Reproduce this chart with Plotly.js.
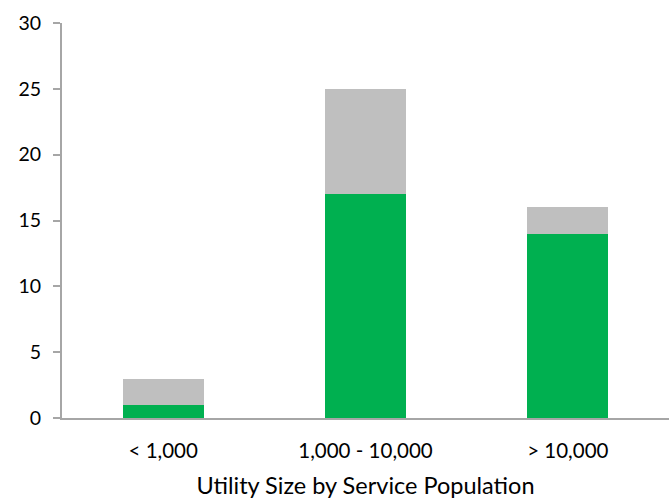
<!DOCTYPE html>
<html>
<head>
<meta charset="utf-8">
<script src="https://cdn.plot.ly/plotly-3.0.1.min.js"></script>
<style>html,body{margin:0;padding:0;background:#fff}</style>
</head>
<body>
<div id="chart" style="width:669px;height:502px"></div>
<script>
const categories = ["< 1,000", "1,000 - 10,000", "> 10,000"];
const greenValues = [1, 17, 14];
const grayValues = [2, 8, 2];

const data = [
  {type: "bar", x: categories, y: greenValues, marker: {color: "#00B050"}, hoverinfo: "none"},
  {type: "bar", x: categories, y: grayValues, marker: {color: "#BFBFBF"}, hoverinfo: "none"}
];
const layout = {
  width: 669, height: 502,
  barmode: "stack",
  bargap: 0.6,
  showlegend: false,
  margin: {l: 62, r: 0, t: 23, b: 84},
  paper_bgcolor: "#fff", plot_bgcolor: "#fff",
  font: {family: "Lato, 'Open Sans', sans-serif", color: "#000", size: 20},
  xaxis: {
    showline: true, linecolor: "#A6A6A6", linewidth: 2,
    ticks: "", showgrid: false,
    tickfont: {size: 20.5},
    ticklabelstandoff: 13,
    title: {text: "Utility Size by Service Population", font: {size: 23.5}, standoff: 17}
  },
  yaxis: {
    range: [0, 30], dtick: 5, showgrid: false, zeroline: false,
    showline: true, linecolor: "#A6A6A6", linewidth: 2,
    ticks: "outside", ticklen: 7, tickcolor: "#A6A6A6", tickwidth: 2,
    tickfont: {size: 19.5},
    ticklabelstandoff: 8
  }
};
Plotly.newPlot("chart", data, layout, {staticPlot: true});
</script>
</body>
</html>
